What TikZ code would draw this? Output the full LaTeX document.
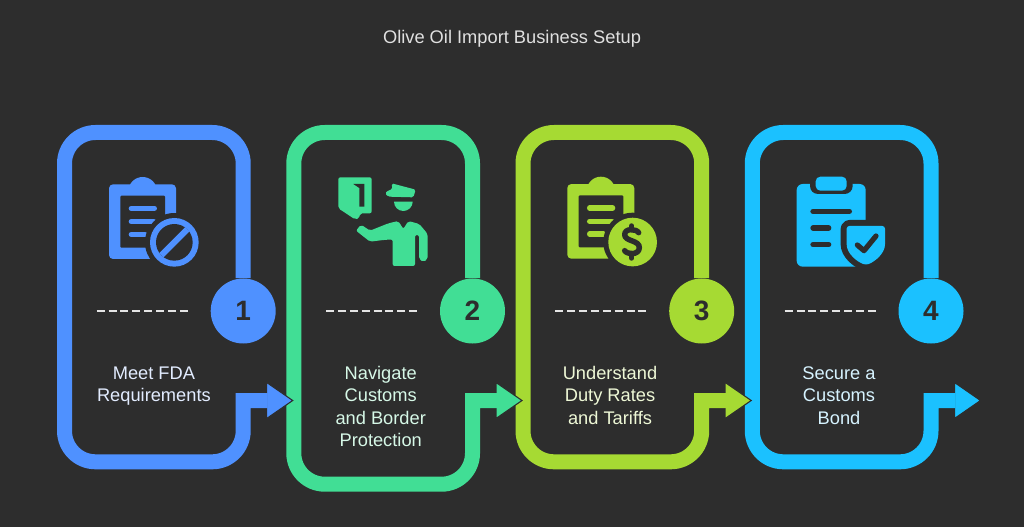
\documentclass[tikz,border=0pt]{standalone}
\usepackage{fontspec}
\setmainfont{Liberation Sans}
\usetikzlibrary{calc}
\definecolor{bgc}{HTML}{2D2D2D}
\definecolor{cblue}{HTML}{4F91FF}
\definecolor{cgreen}{HTML}{41DE95}
\definecolor{clime}{HTML}{A6DA33}
\definecolor{ccyan}{HTML}{1BC1FF}
\definecolor{tblue}{HTML}{E2ECFF}
\definecolor{tgreen}{HTML}{D6F8E7}
\definecolor{tlime}{HTML}{EEF8D6}
\definecolor{tcyan}{HTML}{D6F3FF}
\tikzset{
  steploop/.style={line width=11.25pt,miter limit=10,line join=miter},
  stepnum/.style={circle,inner sep=0pt,minimum size=48.75pt,font=\fontsize{21}{21}\selectfont\bfseries,text=bgc},
  steptext/.style={anchor=north,inner sep=0pt,align=center,font=\fontsize{13.7}{16.8}\selectfont},
  stepdash/.style={draw=white!90!black,line width=1.5pt,dash pattern=on 6pt off 2.9pt},
  headshape/.style={draw=bgc,line width=.8pt,miter limit=10},
  zoomed/.style={x=.25pt,y=-.25pt}
}
\newcommand{\steploopdraw}[8]{%
  \node[stepnum,fill=#4] (c#1) at (#2,311) {#1};
  \coordinate (h#1) at (#2+23.5,400.5);
  \coordinate (p#1) at (#2+49.5,400.5);
  \fill[#4,headshape] (h#1) ++(0,-18) -- (p#1) -- ($(h#1)+(0,18)$) -- cycle;
  \draw[steploop,#4,rounded corners=23.25pt]
    (c#1.north) -- (#2,132.5) -- (#2-178.7,132.5) -- (#2-178.7,#3) -- (#2,#3)
    [sharp corners] -- (#2,400.5) -- ($(h#1)+(.8,0)$);
  \draw[stepdash] (#8-46,311) -- (#8+46.3,311);
  \node[steptext,text=#5] (t#1) at (#6,363.6) {\strut #7};
}
\newcommand{\clipbase}[3]{%
  \begin{scope}[shift={(#1,#2)},zoomed]
    \fill[#3,rounded corners=3pt] (42,58) rectangle (243,282);
    \fill[#3] (143,79) circle[radius=10.75pt];
    \fill[bgc,rounded corners=.8pt] (76,92) rectangle (210,248);
    \draw[#3,line width=4pt,line cap=round] (109,130) -- (178,130);
    \draw[#3,line width=4pt,line cap=round] (109,170) -- (176,170);
    \draw[#3,line width=4pt,line cap=round] (109,208) -- (150,208);
    \fill[bgc] (238,232) circle[radius=22pt];
    \fill[#3] (238,232) circle[radius=18.25pt];
  \end{scope}
}
\begin{document}
\begin{tikzpicture}[x=.75pt,y=-.75pt]
\useasboundingbox (0,0) rectangle (1024,527);
\fill[bgc] (0,0) rectangle (1024,527);
\node[inner sep=0pt,font=\fontsize{13.7}{16}\selectfont,text=white!88!black] (title) at (512,39) {Olive Oil Import Business Setup};
\steploopdraw{4}{931}{461.8}{ccyan}{tcyan}{839}{Secure a\\Customs\\Bond}{830.7}
\steploopdraw{3}{701.7}{461.8}{clime}{tlime}{610}{Understand\\Duty Rates\\and Tariffs}{601.4}
\steploopdraw{2}{472.5}{484.2}{cgreen}{tgreen}{380.7}{Navigate\\Customs\\and Border\\Protection}{372.1}
\steploopdraw{1}{243.2}{461.8}{cblue}{tblue}{153.9}{Meet FDA\\Requirements}{142.7}
% icon 1
\clipbase{95}{165}{cblue}
\begin{scope}[shift={(95,165)},zoomed]
  \fill[bgc] (238,232) circle[radius=13.75pt];
  \draw[cblue,line width=4.5pt] (199,271) -- (277,193);
\end{scope}
% icon 3
\clipbase{553.3}{164.7}{clime}
\begin{scope}[shift={(550,160)},zoomed]
  \draw[bgc,line width=4.1pt,line cap=round,line join=round]
    (266,218) .. controls (258,206) and (224,204) .. (224,224)
    .. controls (224,245) and (270,240) .. (268,264)
    .. controls (266,286) and (232,284) .. (224,272);
  \draw[bgc,line width=4.1pt,line cap=round] (245,198) -- (245,208);
  \draw[bgc,line width=4.1pt,line cap=round] (245,282) -- (245,294);
\end{scope}
% icon 2
\begin{scope}[shift={(320,160)},zoomed]
  \fill[cgreen,rounded corners=1.5pt] (55,52) -- (155,52) -- (155,160) -- (120,160) -- (118,175) -- (105,178) -- (55,145) -- cycle;
  \fill[bgc] (100,72) -- (133,72) -- (133,140) -- (118,140) -- (118,84) -- cycle;
  \fill[cgreen,rounded corners=1.2pt] (215,70) -- (287,89) -- (280,112) -- (205,110) -- (195,100) -- (205,91) -- (217,88) -- cycle;
  \fill[cgreen] (222,125) arc[start angle=180,end angle=360,radius=7pt] -- cycle;
  \fill[cgreen,rounded corners=1.5pt] (235,183) -- (250,207) -- (265,183) -- (298,192) -- (323,222) -- (323,297) -- (310,306) -- (297,297) -- (297,225) -- (285,225) -- (285,318) -- (218,318) -- (218,238) -- (190,240) -- (150,245) -- (108,212) -- (123,194) -- (150,212) -- (205,190) -- cycle;
\end{scope}
% icon 4
\begin{scope}[shift={(780,160)},zoomed]
  \fill[ccyan,rounded corners=4.5pt] (50,72) rectangle (257,320);
  \fill[bgc,rounded corners=6pt] (90,50) rectangle (218,102);
  \fill[ccyan,rounded corners=3.5pt] (107,50) rectangle (200,92);
  \draw[bgc,line width=4pt,line cap=round] (99,154) -- (208,154);
  \draw[bgc,line width=4pt,line cap=round] (99,204) -- (146,204);
  \draw[bgc,line width=4pt,line cap=round] (99,254) -- (146,254);
  \path[fill=ccyan,draw=bgc,line width=9pt,line join=round,rounded corners=2pt]
    (200,198) -- (315,198) -- (315,245) .. controls (315,280) and (285,305) .. (258,315)
    .. controls (230,305) and (200,280) .. (200,245) -- cycle;
  \fill[ccyan,rounded corners=2pt]
    (200,198) -- (315,198) -- (315,245) .. controls (315,280) and (285,305) .. (258,315)
    .. controls (230,305) and (200,280) .. (200,245) -- cycle;
  \draw[bgc,line width=3.9pt,line cap=round,line join=round] (232,255) -- (252,272) -- (288,228);
\end{scope}
\end{tikzpicture}
\end{document}
